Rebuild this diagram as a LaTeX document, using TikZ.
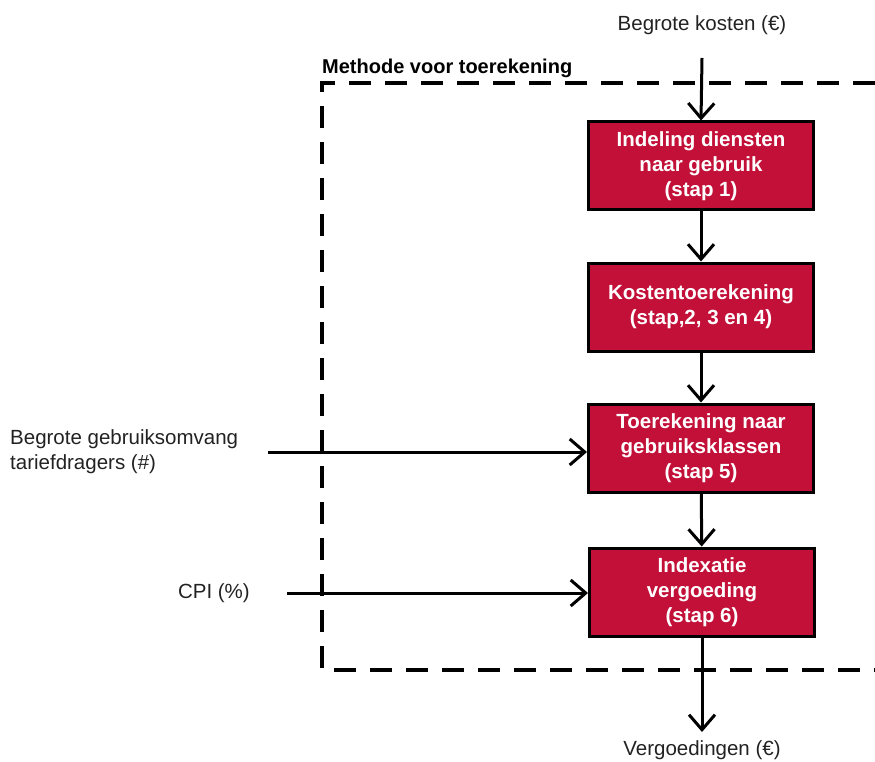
\documentclass[tikz,border=0pt]{standalone}
\usepackage{fontspec}
\setmainfont{Liberation Sans}
\usetikzlibrary{arrows.meta}
\definecolor{boxred}{RGB}{194,16,56}
\definecolor{txt}{RGB}{34,34,34}
\begin{document}
\begin{tikzpicture}[x=1pt,y=-1pt,
  stepbox/.style={draw=black, line width=3pt, fill=boxred, text=white,
    minimum width=225pt, minimum height=88pt, align=center, inner sep=0pt,
    font=\fontsize{20.5}{25}\selectfont\bfseries},
  lbl/.style={font=\fontsize{20.5}{25}\selectfont, text=txt, align=left, inner sep=0pt},
  flow/.style={line width=3pt, -{Straight Barb[length=15pt,width=26pt,line width=3pt]}},
  dashbox/.style={line width=4.5pt, dash pattern=on 22pt off 14pt}]
\useasboundingbox (0,0) rectangle (875,762);
\clip (0,0) rectangle (875,762);
\draw[dashbox] (875,83) -- (322,83) -- (322,670) -- (875,670);
\node[lbl, anchor=west, text=black, font=\fontsize{20}{24}\selectfont\bfseries] (meth) at (322,68) {Methode voor toerekening};
\node[lbl] (kosten) at (702,25) {Begrote kosten (€)};
\node[stepbox] (b1) at (701,166) {Indeling diensten\\naar gebruik\\(stap 1)};
\node[stepbox] (b2) at (701,307) {Kostentoerekening\\(stap,2, 3 en 4)};
\node[stepbox] (b3) at (701,448) {Toerekening naar\\gebruiksklassen\\(stap 5)};
\node[stepbox] (b4) at (702,592) {Indexatie\\vergoeding\\(stap 6)};
\node[lbl, anchor=west] (gebr) at (10,452) {Begrote gebruiksomvang\\tariefdragers (\#)};
\node[lbl, anchor=east] (cpi) at (250,593) {CPI (\%)};
\node[lbl] (verg) at (702,750) {Vergoedingen (€)};
\coordinate (topin) at (702,58);
\coordinate (botout) at (702,732);
\coordinate (gebrin) at (268,452);
\coordinate (cpiin) at (287,593);
\draw[flow] (topin) -- (b1.north);
\draw[flow] (b1) -- (b2);
\draw[flow] (b2) -- (b3);
\draw[flow] (b3) -- (b4);
\draw[flow] (b4.south) -- (botout);
\draw[flow] (gebrin) -- (gebrin -| b3.west);
\draw[flow] (cpiin) -- (cpiin -| b4.west);
\end{tikzpicture}
\end{document}
